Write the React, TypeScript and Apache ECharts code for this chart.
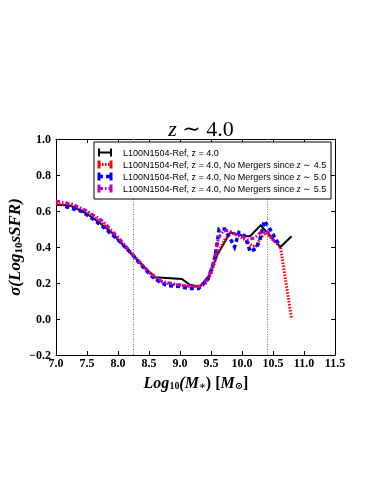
import React, { useEffect, useRef } from "react";
import * as echarts from "echarts";

const xTicks = [7.0, 7.5, 8.0, 8.5, 9.0, 9.5, 10.0, 10.5, 11.0, 11.5];
const yTicks = [-0.2, 0.0, 0.2, 0.4, 0.6, 0.8, 1.0];
const vLines = [8.25, 10.4];

const seriesNames = [
  "L100N1504-Ref, z = 4.0",
  "L100N1504-Ref, z = 4.0, No Mergers since {i|z} ∼ 4.5",
  "L100N1504-Ref, z = 4.0, No Mergers since {i|z} ∼ 5.0",
  "L100N1504-Ref, z = 4.0, No Mergers since {i|z} ∼ 5.5",
];

const refData: number[][] = [
  [7.0, 0.635], [7.23, 0.63], [7.47, 0.59], [7.68, 0.54], [7.9, 0.48], [8.0, 0.44],
  [8.25, 0.35], [8.49, 0.265], [8.6, 0.232], [9.03, 0.222], [9.16, 0.19], [9.32, 0.178],
  [9.48, 0.246], [9.6, 0.355], [9.81, 0.48], [10.05, 0.46], [10.13, 0.46], [10.3, 0.52],
  [10.62, 0.4], [10.8, 0.46],
];

const noMerg45: number[][] = [
  [7.0, 0.64], [7.25, 0.63], [7.5, 0.595], [7.75, 0.53], [8.0, 0.445], [8.25, 0.35],
  [8.5, 0.26], [8.65, 0.21], [8.85, 0.195], [9.05, 0.185], [9.25, 0.18], [9.4, 0.19],
  [9.5, 0.25], [9.6, 0.36], [9.72, 0.44], [9.82, 0.48], [9.95, 0.46], [10.05, 0.44],
  [10.15, 0.41], [10.22, 0.4], [10.3, 0.45], [10.38, 0.48], [10.5, 0.44], [10.62, 0.4],
  [10.8, 0.0],
];

const noMerg50: number[][] = [
  [7.15, 0.625], [7.4, 0.6], [7.6, 0.555], [7.8, 0.5], [8.0, 0.44], [8.2, 0.37],
  [8.4, 0.29], [8.55, 0.235], [8.7, 0.2], [8.8, 0.185], [9.0, 0.18], [9.15, 0.17],
  [9.3, 0.17], [9.45, 0.22], [9.55, 0.32], [9.6, 0.42], [9.63, 0.5], [9.72, 0.5],
  [9.82, 0.44], [9.88, 0.4], [9.95, 0.48], [10.05, 0.46], [10.13, 0.375], [10.22, 0.39],
  [10.28, 0.43], [10.36, 0.545], [10.45, 0.5], [10.55, 0.44], [10.62, 0.4],
];

const noMerg55: number[][] = [
  [7.0, 0.655], [7.25, 0.64], [7.5, 0.6], [7.75, 0.545], [8.0, 0.455], [8.25, 0.355],
  [8.5, 0.26], [8.7, 0.21], [8.9, 0.195], [9.1, 0.185], [9.3, 0.18], [9.45, 0.22],
  [9.55, 0.33], [9.62, 0.45], [9.7, 0.49], [9.8, 0.49], [9.9, 0.47], [10.0, 0.46],
  [10.1, 0.44], [10.2, 0.45], [10.3, 0.48], [10.4, 0.49], [10.5, 0.44], [10.6, 0.41],
];

const colors = ["#000000", "#ff0000", "#0000ff", "#bf00bf"];
const widths = [2, 3, 3.5, 3];
const dashes: any[] = ["solid", [1.5, 1.5], [4, 3], [4, 2, 1.5, 2]];

const serif = "'Liberation Serif', 'DejaVu Serif', serif";

export default function App() {
  const ref = useRef<HTMLDivElement>(null);
  useEffect(() => {
    if (!ref.current) return;
    const chart = echarts.init(ref.current, null, { renderer: "svg" });
    const datasets = [refData, noMerg45, noMerg50, noMerg55];

    const gl = { left: 56, top: 139, width: 279, height: 216 };

    const legendEls: any[] = [
      {
        type: "rect",
        shape: { x: 94, y: 142, width: 237, height: 57 },
        style: { fill: "#fff", stroke: "#000", lineWidth: 1 },
        z: 100,
      },
    ];
    seriesNames.forEach((name, i) => {
      const y = 152.5 + i * 12;
      const x0 = 99, x1 = 111;
      legendEls.push({
        type: "line",
        shape: { x1: x0, y1: y, x2: x1, y2: y },
        style: { stroke: colors[i], lineWidth: widths[i], lineDash: dashes[i] === "solid" ? null : dashes[i] },
        z: 101,
      });
      [x0, x1].forEach((cx) => {
        legendEls.push({
          type: "line",
          shape: { x1: cx, y1: y - 4, x2: cx, y2: y + 4 },
          style: { stroke: colors[i], lineWidth: i === 0 ? 2 : 3 },
          z: 101,
        });
      });
      legendEls.push({
        type: "text",
        x: 123,
        y: y,
        style: {
          text: name,
          fill: "#000",
          font: "9px 'Liberation Sans', Arial, sans-serif",
          verticalAlign: "middle",
          rich: { i: { fontStyle: "italic", fontFamily: serif, fontSize: 10 } },
        },
        z: 101,
      });
    });

    const axisTick = { inside: true, length: 4, lineStyle: { color: "#000", width: 1 } };
    const axisLine = { show: true, onZero: false, lineStyle: { color: "#000", width: 1 } };

    chart.setOption({
      animation: false,
      title: {
        text: "{i|z} ∼ 4.0",
        left: 196,
        top: 112,
        textAlign: "center",
        textStyle: {
          fontFamily: serif,
          fontSize: 22,
          fontWeight: "normal",
          color: "#000",
          rich: { i: { fontStyle: "italic", fontFamily: serif, fontSize: 22 } },
        },
      },
      grid: gl,
      xAxis: [
        {
          type: "value",
          min: 7.0,
          max: 11.5,
          interval: 0.5,
          axisLine,
          axisTick,
          splitLine: { show: false },
          axisLabel: {
            fontFamily: serif,
            fontWeight: "bold",
            fontSize: 12,
            color: "#000",
            margin: 2,
            formatter: (v: number) => v.toFixed(1),
          },
        },
        {
          type: "value",
          position: "top",
          min: 7.0,
          max: 11.5,
          interval: 0.5,
          axisLine,
          axisTick,
          splitLine: { show: false },
          axisLabel: { show: false },
        },
      ],
      yAxis: [
        {
          type: "value",
          min: -0.2,
          max: 1.0,
          interval: 0.2,
          axisLine,
          axisTick,
          splitLine: { show: false },
          axisLabel: {
            fontFamily: serif,
            fontWeight: "bold",
            fontSize: 12,
            color: "#000",
            margin: 5,
            formatter: (v: number) => {
              const s = Math.abs(v) < 1e-9 ? "0.0" : v.toFixed(1);
              return s.replace("-", "−");
            },
          },
        },
        {
          type: "value",
          position: "right",
          min: -0.2,
          max: 1.0,
          interval: 0.2,
          axisLine,
          axisTick,
          splitLine: { show: false },
          axisLabel: { show: false },
        },
      ],
      series: datasets.map((d, i) => ({
        type: "line",
        data: d,
        xAxisIndex: 0,
        yAxisIndex: 0,
        symbol: "none",
        lineStyle: { color: colors[i], width: widths[i], type: dashes[i], cap: "butt", join: "miter" },
        z: 2 + i,
        markLine:
          i === 0
            ? {
                silent: true,
                symbol: "none",
                label: { show: false },
                lineStyle: { color: "#777", type: [1, 1.5], width: 1 },
                data: vLines.map((v) => ({ xAxis: v })),
              }
            : undefined,
      })),
      graphic: [
        ...legendEls,
        {
          type: "text",
          x: 196,
          y: 382,
          style: {
            text: "{b|Log}{s|10}{b|(M}{s|∗}{n|) [}{b|M}{s|⊙}{n|]}",
            align: "center",
            verticalAlign: "middle",
            fill: "#000",
            rich: {
              b: { fontFamily: serif, fontStyle: "italic", fontWeight: "bold", fontSize: 16 },
              n: { fontFamily: serif, fontWeight: "bold", fontSize: 16 },
              s: { fontFamily: serif, fontWeight: "bold", fontSize: 10, padding: [7, 0, 0, 0] },
            },
          },
        },
        {
          type: "text",
          x: 14,
          y: 247,
          rotation: Math.PI / 2,
          style: {
            text: "{b|σ(Log}{s|10}{b|sSFR)}",
            align: "center",
            verticalAlign: "middle",
            fill: "#000",
            rich: {
              b: { fontFamily: serif, fontStyle: "italic", fontWeight: "bold", fontSize: 17 },
              s: { fontFamily: serif, fontWeight: "bold", fontSize: 11, padding: [8, 0, 0, 0] },
            },
          },
        },
      ],
    });
    return () => chart.dispose();
  }, []);
  return <div ref={ref} style={{ position: "fixed", left: 0, top: 0, width: 383, height: 495 }} />;
}
